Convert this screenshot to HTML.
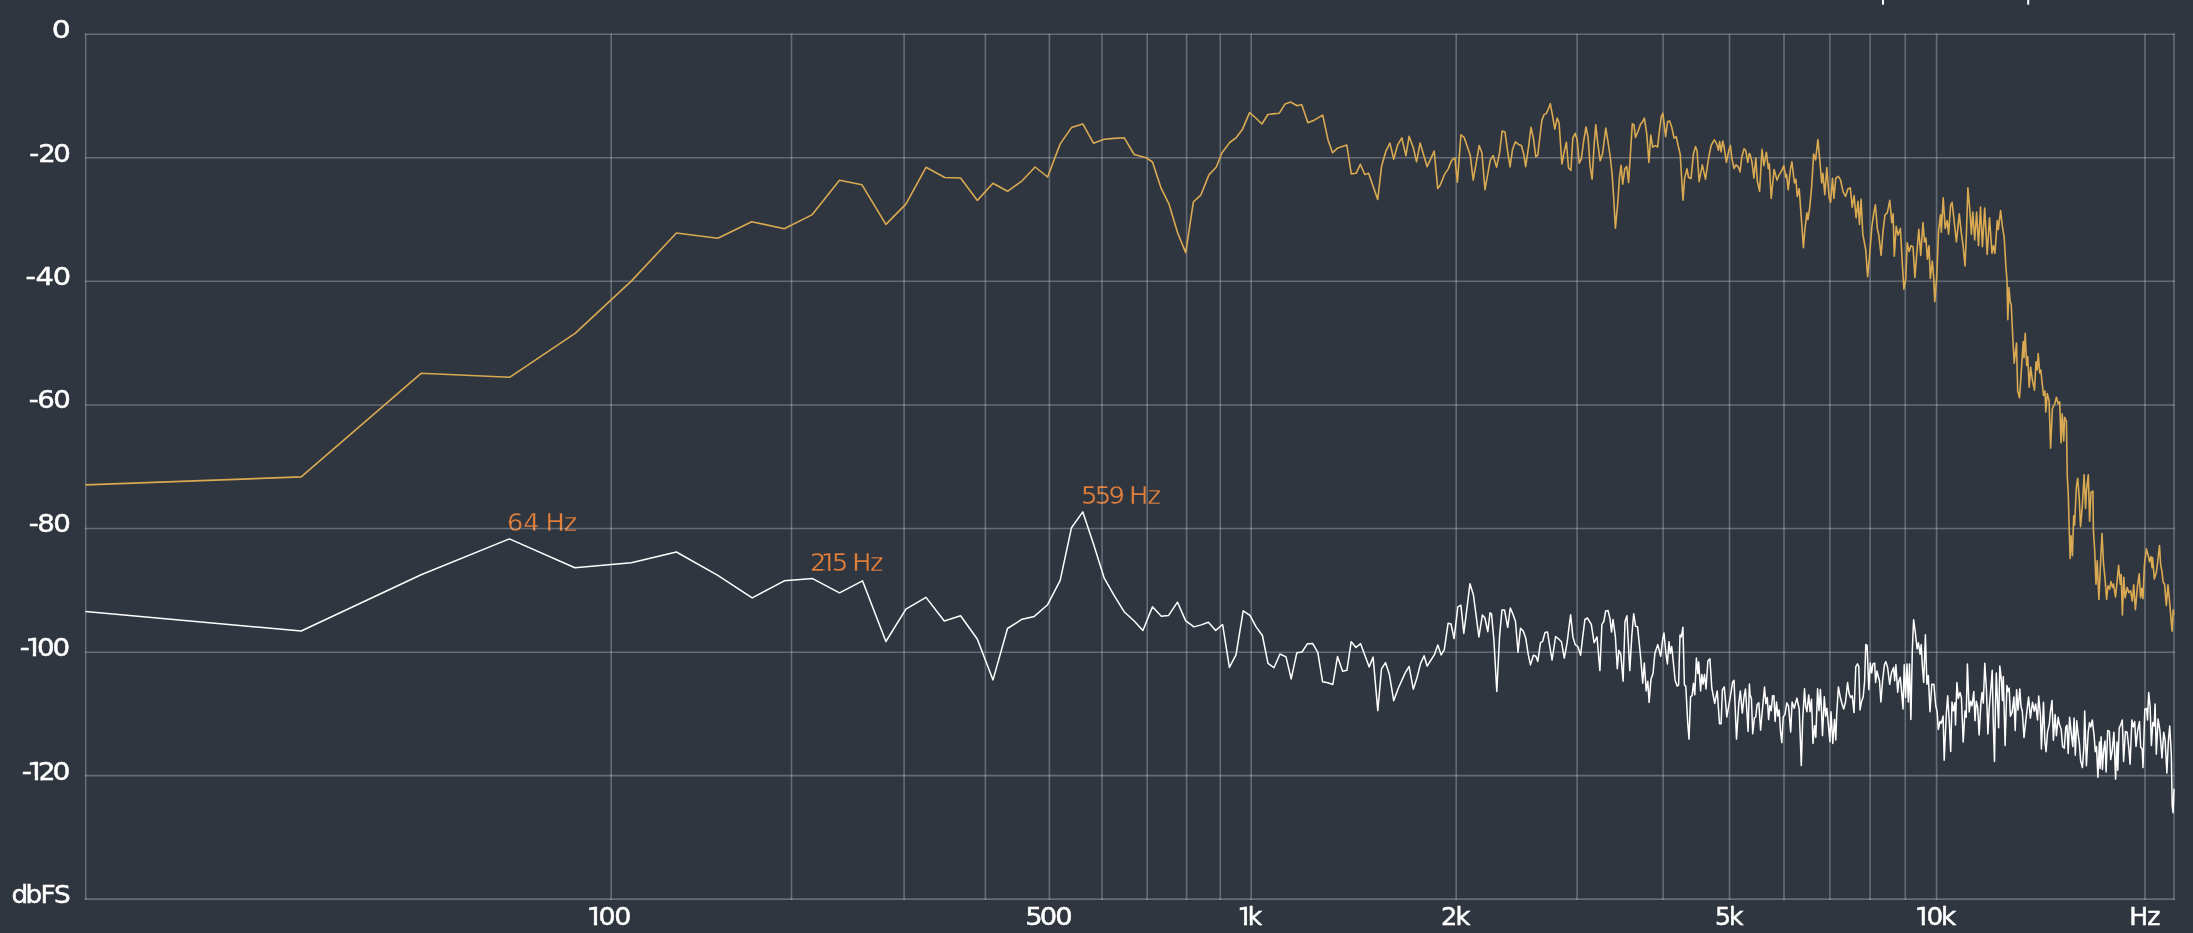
<!DOCTYPE html>
<html><head><meta charset="utf-8"><title>Spectrum</title>
<style>
html,body{margin:0;padding:0;background:#30363f;overflow:hidden}
svg{display:block;will-change:transform}
text{font-family:"DejaVu Sans","Liberation Sans",sans-serif;}
.ax{fill:#ffffff;font-size:24.0px;stroke:#ffffff;stroke-width:0.45px}
.pk{fill:#df7f3b;font-size:24.8px;stroke:#30363f;stroke-width:0.35px}
.g{stroke:rgba(235,245,255,0.28);stroke-width:1.6;fill:none}
</style></head><body>
<svg width="2193" height="933" viewBox="0 0 2193 933">
<rect width="2193" height="933" fill="#30363f"/>
<rect x="1882" y="0" width="2" height="4.7" fill="#fff"/>
<rect x="2027.2" y="0" width="2" height="4.7" fill="#fff"/>
<text class="pk" transform="translate(506.93,531.10) scale(1.0311,1)" x="0.00 15.74 31.52 37.49 55.19" y="0">64 Hz</text>
<text class="pk" transform="translate(810.08,570.85) scale(1.0276,1)" x="0.00 10.49 21.30 37.08 41.00 58.36" y="0">215 Hz</text><rect x="824.40" y="567.39" width="3.68" height="5.06" fill="#30363f"/><rect x="830.67" y="567.39" width="3.23" height="5.06" fill="#30363f"/>
<text class="pk" transform="translate(1081.04,504.05) scale(1.0450,1)" x="0.00 13.16 26.18 41.96 45.95 63.50" y="0">559 Hz</text>
<g class="g">
<line x1="84.9" y1="34.2" x2="2174.8" y2="34.2"/>
<line x1="84.9" y1="157.7" x2="2174.8" y2="157.7"/>
<line x1="84.9" y1="281.3" x2="2174.8" y2="281.3"/>
<line x1="84.9" y1="405.0" x2="2174.8" y2="405.0"/>
<line x1="84.9" y1="528.5" x2="2174.8" y2="528.5"/>
<line x1="84.9" y1="652.3" x2="2174.8" y2="652.3"/>
<line x1="84.9" y1="775.6" x2="2174.8" y2="775.6"/>
<line x1="84.9" y1="899.1" x2="2174.8" y2="899.1"/>
<line x1="85.7" y1="33.400000000000006" x2="85.7" y2="899.9"/>
<line x1="611.2" y1="33.400000000000006" x2="611.2" y2="899.9"/>
<line x1="791.5" y1="33.400000000000006" x2="791.5" y2="899.9"/>
<line x1="904.1" y1="33.400000000000006" x2="904.1" y2="899.9"/>
<line x1="985.4" y1="33.400000000000006" x2="985.4" y2="899.9"/>
<line x1="1049.4" y1="33.400000000000006" x2="1049.4" y2="899.9"/>
<line x1="1102" y1="33.400000000000006" x2="1102" y2="899.9"/>
<line x1="1147.2" y1="33.400000000000006" x2="1147.2" y2="899.9"/>
<line x1="1186.6" y1="33.400000000000006" x2="1186.6" y2="899.9"/>
<line x1="1220.3" y1="33.400000000000006" x2="1220.3" y2="899.9"/>
<line x1="1251.2" y1="33.400000000000006" x2="1251.2" y2="899.9"/>
<line x1="1456.2" y1="33.400000000000006" x2="1456.2" y2="899.9"/>
<line x1="1577.1" y1="33.400000000000006" x2="1577.1" y2="899.9"/>
<line x1="1663.1" y1="33.400000000000006" x2="1663.1" y2="899.9"/>
<line x1="1729.5" y1="33.400000000000006" x2="1729.5" y2="899.9"/>
<line x1="1784" y1="33.400000000000006" x2="1784" y2="899.9"/>
<line x1="1829.9" y1="33.400000000000006" x2="1829.9" y2="899.9"/>
<line x1="1870.1" y1="33.400000000000006" x2="1870.1" y2="899.9"/>
<line x1="1905.3" y1="33.400000000000006" x2="1905.3" y2="899.9"/>
<line x1="1936.6" y1="33.400000000000006" x2="1936.6" y2="899.9"/>
<line x1="2145" y1="33.400000000000006" x2="2145" y2="899.9"/>
<line x1="2174.0" y1="33.400000000000006" x2="2174.0" y2="899.9"/>
</g>
<polyline points="85.5,484.9 301.2,476.9 421.1,373.3 509.6,377.3 575.4,333.2 631.3,281.1 676.4,233.0 717.8,238.2 751.7,221.7 784.3,228.7 811.9,214.9 839.5,180.3 862.0,184.8 885.9,224.4 905.9,204.1 926.0,167.3 944.8,177.5 960.6,178.0 977.4,200.4 993.0,183.3 1007.5,191.3 1022.1,180.8 1035.1,167.0 1047.6,177.0 1060.2,143.9 1071.5,127.6 1082.8,123.9 1093.5,143.2 1104.1,139.2 1114.1,138.4 1124.1,137.7 1134.2,154.5 1144.2,157.2 1146.8,158.1 1152.5,162.0 1161.2,188.4 1168.9,203.8 1177.6,232.8 1185.7,252.6 1193.4,201.9 1200.8,195.2 1208.9,174.9 1216.2,167.2 1222.0,152.7 1229.7,142.5 1236.5,137.3 1242.3,129.6 1249.6,112.6 1255.8,118.0 1261.9,124.0 1267.9,114.5 1273.1,113.9 1279.3,113.2 1285.1,103.9 1290.5,102.0 1297.2,105.8 1301.7,104.5 1307.9,122.8 1314.6,119.9 1322.7,115.1 1328.1,140.2 1332.6,152.7 1337.8,147.9 1346.8,145.0 1351.3,173.9 1356.1,173.3 1360.3,164.3 1364.8,174.5 1368.6,173.3 1377.7,199.4 1381.6,166.2 1386.0,150.8 1389.9,143.1 1393.7,159.1 1397.6,145.0 1401.8,137.8 1405.9,155.6 1409.1,136.3 1413.6,148.8 1416.5,161.8 1420.1,143.1 1427.1,166.6 1434.2,151.2 1437.7,188.4 1440.0,185.5 1444.8,173.9 1448.1,169.1 1451.6,160.4 1454.9,157.9 1457.4,182.2 1460.9,134.8 1464.1,137.3 1470.3,155.6 1473.2,180.1 1479.2,145.6 1481.9,152.7 1485.0,189.7 1490.2,160.4 1493.1,155.6 1496.6,167.2 1499.6,152.7 1502.1,131.0 1505.0,132.1 1507.7,151.9 1510.1,166.9 1512.5,149.5 1515.4,141.8 1518.6,144.4 1521.4,145.5 1523.8,154.3 1525.7,166.7 1528.6,146.3 1531.0,127.3 1533.4,138.2 1535.8,156.7 1537.8,155.1 1539.9,136.6 1541.8,120.6 1543.9,114.9 1546.3,113.3 1548.2,109.3 1550.3,103.7 1552.7,116.5 1554.8,129.1 1557.2,118.1 1559.1,123.0 1561.9,164.0 1564.0,152.7 1566.4,142.3 1568.5,168.0 1570.9,170.4 1572.8,138.2 1575.2,133.4 1577.2,139.9 1579.2,163.2 1581.3,159.1 1583.6,141.5 1586.0,127.0 1588.1,137.4 1590.0,165.6 1592.1,179.2 1594.2,143.9 1595.8,124.9 1597.7,143.1 1600.2,160.8 1602.6,153.5 1605.8,128.1 1608.2,143.1 1610.3,157.5 1612.2,175.2 1613.8,199.4 1615.4,228.3 1617.8,202.6 1619.5,176.8 1621.1,165.3 1622.7,184.1 1624.8,168.8 1626.7,166.4 1628.6,182.5 1630.4,154.3 1632.3,123.8 1633.9,124.6 1635.5,137.4 1637.9,131.8 1640.7,123.8 1642.4,122.2 1644.4,118.1 1646.8,134.2 1648.9,162.4 1650.8,135.0 1652.7,147.1 1655.6,145.5 1657.6,147.1 1659.7,128.6 1661.3,116.5 1662.9,113.3 1665.6,136.6 1667.7,121.4 1669.6,120.9 1671.7,127.0 1674.1,138.2 1676.2,136.6 1678.1,145.5 1680.2,154.3 1683.0,200.2 1684.6,178.4 1687.0,168.8 1688.6,177.6 1691.0,178.4 1693.4,154.3 1695.5,146.6 1697.1,151.1 1699.1,181.7 1702.3,164.8 1705.5,179.2 1708.7,157.5 1711.1,145.5 1714.3,139.9 1716.7,143.9 1718.4,150.3 1719.6,141.5 1721.1,151.9 1722.7,141.1 1724.0,146.3 1726.4,162.4 1728.5,151.9 1730.4,145.5 1732.0,159.1 1734.1,168.5 1736.0,164.8 1738.5,167.2 1740.1,172.0 1741.7,157.5 1744.1,148.7 1745.7,150.3 1747.8,162.4 1749.2,153.5 1750.0,154.1 1751.9,161.8 1753.9,178.2 1755.8,158.0 1757.3,181.1 1759.6,191.3 1762.0,149.3 1763.9,165.7 1766.4,152.2 1768.3,168.6 1769.3,163.8 1771.2,198.5 1774.1,169.5 1777.0,180.1 1778.9,175.3 1781.8,170.5 1783.8,165.7 1785.7,177.3 1786.6,174.4 1788.2,189.8 1790.5,168.6 1791.9,161.8 1794.4,183.0 1795.9,179.2 1797.3,196.5 1799.2,188.8 1801.1,214.9 1803.4,247.6 1805.0,228.4 1806.9,212.9 1807.9,219.7 1809.8,207.1 1811.7,185.9 1813.6,154.1 1815.6,159.9 1817.9,139.6 1819.8,159.9 1821.7,183.0 1822.9,173.4 1824.8,194.6 1826.8,167.6 1829.1,197.5 1830.6,202.3 1832.5,178.2 1833.9,198.5 1835.8,178.2 1838.3,176.3 1840.6,180.1 1843.0,191.7 1845.5,196.5 1848.0,188.8 1850.3,187.9 1852.2,207.1 1854.1,195.6 1856.1,217.8 1858.0,201.4 1859.5,224.5 1861.1,199.4 1862.8,234.1 1865.7,249.6 1867.6,276.6 1869.6,255.4 1871.9,226.4 1873.8,212.9 1875.4,204.8 1877.3,228.4 1878.8,235.1 1881.1,255.4 1883.1,230.3 1885.0,214.9 1887.3,212.9 1889.8,200.4 1891.8,222.6 1893.1,213.9 1894.3,256.3 1896.2,226.4 1898.1,235.1 1900.4,228.4 1902.4,265.0 1903.9,289.1 1905.8,278.5 1907.2,242.8 1909.1,251.5 1911.0,245.7 1913.0,246.7 1914.9,277.5 1916.8,253.4 1918.8,229.3 1920.7,255.4 1923.0,222.6 1924.5,241.9 1925.9,238.0 1927.4,259.2 1929.0,245.7 1930.3,278.5 1932.3,261.1 1933.6,276.6 1934.8,301.6 1936.7,276.6 1938.6,230.3 1940.5,214.9 1941.3,232.2 1943.2,197.9 1945.2,228.4 1947.1,220.6 1948.6,234.1 1950.6,205.2 1952.1,202.3 1954.1,220.6 1956.4,241.9 1959.3,213.9 1961.2,232.2 1963.1,245.7 1965.0,266.0 1966.4,234.1 1967.9,187.9 1969.9,211.0 1971.4,234.1 1972.8,212.0 1974.7,239.9 1976.6,212.0 1978.5,245.7 1980.5,207.1 1982.4,246.7 1984.7,208.1 1987.2,254.4 1989.5,217.8 1992.0,253.4 1993.4,245.7 1994.9,253.4 1997.3,220.6 1998.3,229.5 2000.6,210.6 2002.3,225.9 2004.2,237.7 2006.0,268.4 2007.0,280.2 2007.8,319.7 2009.0,287.5 2010.2,302.5 2011.2,304.0 2012.7,335.5 2014.2,363.2 2016.5,343.0 2017.7,391.0 2019.5,397.7 2021.0,376.0 2023.2,341.5 2024.0,358.0 2025.2,333.2 2026.7,365.5 2027.7,356.5 2029.2,387.2 2030.7,367.0 2032.2,379.0 2034.5,390.2 2036.0,361.7 2037.2,370.0 2038.2,353.5 2039.7,373.0 2040.8,370.0 2043.5,395.5 2045.0,391.0 2045.8,411.9 2047.3,393.6 2049.1,400.9 2050.6,448.3 2052.4,408.2 2054.6,404.6 2056.4,397.3 2058.2,403.7 2059.7,401.8 2061.0,442.9 2062.2,413.7 2063.7,441.0 2064.6,417.3 2066.4,421.0 2067.3,477.5 2068.2,492.1 2069.2,528.5 2070.1,558.6 2071.0,535.8 2072.4,555.8 2073.7,515.8 2074.6,524.9 2076.4,486.6 2077.7,478.4 2079.2,497.5 2080.5,526.7 2082.3,506.6 2084.1,474.7 2085.6,508.5 2086.5,490.2 2088.3,474.7 2089.6,521.2 2091.0,492.1 2092.9,491.1 2093.4,530.3 2094.7,550.4 2096.0,584.1 2097.2,560.9 2098.9,599.5 2100.6,561.8 2102.0,533.5 2103.5,563.5 2105.2,580.6 2106.6,599.5 2108.0,585.8 2109.7,589.2 2110.9,581.5 2112.6,587.5 2113.5,584.1 2115.5,596.9 2117.2,580.6 2118.6,565.2 2120.3,584.1 2121.2,574.6 2122.4,614.9 2123.8,577.2 2125.1,597.8 2127.2,587.5 2128.9,592.6 2130.6,590.9 2132.3,601.2 2133.7,584.9 2135.4,609.8 2137.5,585.8 2139.2,573.8 2140.6,597.8 2141.8,588.4 2143.0,598.6 2144.4,565.2 2146.4,548.9 2148.1,554.9 2149.5,561.8 2150.9,556.6 2152.1,567.8 2152.6,557.5 2154.3,578.9 2156.4,572.1 2157.7,561.8 2159.5,545.5 2160.7,565.2 2161.9,571.2 2163.2,582.3 2164.6,584.1 2166.3,605.5 2168.0,584.9 2169.7,602.9 2170.9,617.5 2172.1,631.2 2173.2,609.8 2173.9,614.9" fill="none" stroke="#d9aa52" stroke-width="1.6" stroke-linejoin="round"/>
<polyline points="85.5,611.4 301.2,631.0 421.1,574.8 509.4,538.9 574.9,567.8 631.3,562.8 676.4,552.0 717.8,575.3 752.2,597.9 784.3,580.8 812.6,578.6 839.5,592.9 862.5,580.8 885.9,641.5 905.9,609.2 926.0,597.4 944.3,621.0 960.6,615.7 977.4,639.3 993.0,679.9 1007.5,628.5 1022.1,619.2 1034.3,616.4 1047.6,604.7 1060.2,580.3 1071.5,527.7 1082.8,511.9 1093.5,544.0 1104.1,577.8 1114.1,595.4 1124.1,611.7 1134.2,621.0 1142.9,630.5 1152.5,606.7 1161.3,616.2 1168.6,615.4 1177.5,602.2 1185.7,620.9 1194.0,626.9 1201.2,624.9 1208.4,622.3 1215.7,630.4 1222.6,624.5 1229.4,667.4 1236.0,654.9 1243.2,610.8 1250.0,615.4 1256.0,626.6 1262.4,635.5 1268.0,663.4 1274.0,667.7 1280.0,654.0 1286.0,656.9 1291.2,678.9 1296.8,652.8 1302.0,652.0 1307.5,643.7 1312.6,643.4 1317.8,652.3 1322.6,681.8 1327.7,682.7 1332.8,684.5 1337.5,656.6 1342.6,671.2 1346.9,670.3 1351.2,641.7 1356.0,647.5 1360.6,643.7 1369.2,666.9 1373.1,657.1 1377.8,710.6 1381.5,668.9 1385.5,662.6 1389.4,674.6 1393.7,700.7 1398.3,688.3 1405.2,672.9 1409.1,666.5 1413.3,689.2 1416.9,678.0 1420.6,663.4 1424.1,655.7 1427.1,666.0 1434.3,654.9 1437.8,644.9 1441.2,654.9 1444.3,649.7 1448.1,623.2 1451.0,624.0 1454.1,638.6 1457.8,606.9 1460.9,605.2 1463.8,633.4 1466.9,608.6 1470.0,583.7 1473.4,594.9 1478.9,636.9 1482.4,614.9 1484.9,618.0 1487.8,631.7 1490.0,612.8 1491.5,613.8 1493.9,639.8 1496.8,691.5 1499.6,635.9 1502.0,609.9 1504.5,609.9 1507.7,627.3 1510.3,608.0 1512.8,613.8 1515.5,621.5 1518.0,652.3 1520.5,628.2 1523.2,631.1 1525.7,637.9 1528.2,654.3 1530.5,664.9 1533.4,655.2 1535.9,656.2 1537.8,661.4 1540.5,642.7 1542.5,641.7 1545.0,632.5 1547.5,632.1 1549.8,646.5 1552.1,660.0 1555.6,636.5 1558.5,638.8 1561.4,641.7 1564.3,658.1 1567.1,642.7 1570.6,614.7 1572.9,636.9 1575.2,644.6 1577.8,646.5 1580.6,655.2 1582.6,637.9 1584.9,619.5 1587.4,618.0 1591.3,624.4 1594.1,642.7 1597.0,636.9 1599.9,670.6 1601.9,624.4 1603.8,621.5 1605.7,610.9 1608.0,610.5 1610.0,618.6 1611.5,632.1 1613.0,619.5 1615.4,636.9 1617.3,668.7 1618.8,650.4 1620.8,654.3 1623.1,681.3 1625.0,621.5 1626.9,615.7 1629.8,670.6 1631.8,635.9 1633.7,613.8 1635.6,626.3 1637.5,626.7 1639.5,645.6 1641.0,661.0 1642.7,683.2 1644.3,662.9 1646.2,690.9 1647.8,681.3 1649.1,702.5 1651.0,679.3 1653.0,673.5 1654.9,653.3 1657.8,644.6 1660.7,656.2 1662.6,639.8 1664.0,633.0 1665.9,653.3 1667.4,663.9 1669.0,641.7 1670.3,653.3 1671.7,646.5 1673.2,661.0 1675.1,680.3 1677.1,686.1 1678.6,685.1 1680.0,635.0 1681.3,636.9 1682.9,627.3 1684.4,685.1 1685.8,686.1 1687.7,722.7 1689.0,739.1 1690.6,696.7 1692.1,695.7 1693.5,683.2 1694.8,694.8 1696.4,658.1 1697.9,673.5 1698.7,662.0 1700.6,690.9 1701.8,674.5 1703.1,684.1 1704.5,674.5 1706.0,689.0 1707.9,661.0 1709.9,658.7 1711.8,688.0 1714.7,703.4 1717.2,690.9 1719.5,723.7 1721.1,723.7 1722.4,689.9 1724.3,687.0 1726.8,716.9 1729.2,703.4 1731.1,691.9 1732.6,682.2 1734.0,680.3 1736.5,739.1 1738.8,703.4 1740.3,690.9 1742.3,713.1 1744.2,695.7 1745.5,689.0 1748.1,731.4 1749.4,684.1 1750.0,694.9 1751.4,698.4 1752.7,733.8 1754.4,717.9 1755.7,717.0 1757.1,704.6 1758.8,702.8 1760.6,730.3 1762.0,714.3 1763.3,700.2 1764.5,686.9 1765.9,703.7 1767.3,697.5 1768.6,719.6 1769.8,705.5 1771.2,710.8 1772.6,695.8 1773.9,695.8 1775.1,721.4 1776.5,702.0 1777.9,716.1 1779.2,709.9 1780.4,730.3 1781.8,742.6 1783.2,717.0 1785.0,714.3 1786.8,702.8 1788.6,706.4 1790.7,732.0 1792.1,702.0 1794.2,708.2 1796.9,698.1 1799.2,709.0 1801.3,765.6 1802.7,719.6 1804.5,688.7 1805.7,706.4 1806.9,711.7 1808.7,694.9 1810.1,711.7 1811.5,699.3 1813.0,743.5 1814.6,725.8 1815.8,737.3 1817.6,688.7 1819.0,710.8 1820.4,689.6 1821.6,712.6 1822.5,735.6 1824.3,696.7 1825.7,716.1 1826.9,708.2 1828.7,728.5 1829.9,741.8 1831.0,711.7 1832.8,743.5 1834.5,719.6 1835.8,740.0 1836.7,714.3 1838.4,686.9 1840.2,696.7 1842.0,703.7 1843.7,709.0 1845.5,702.0 1847.6,682.5 1849.0,693.1 1850.5,697.5 1852.2,695.8 1854.0,712.6 1855.8,666.6 1857.5,663.9 1858.8,666.6 1860.0,709.9 1861.4,702.0 1863.2,696.7 1864.6,681.6 1865.8,644.5 1867.1,645.4 1868.8,689.6 1870.3,663.1 1871.7,672.8 1872.9,663.9 1874.7,663.1 1875.6,682.5 1877.0,671.0 1878.2,676.3 1879.5,680.7 1880.9,702.0 1882.6,680.7 1884.4,664.8 1885.8,661.6 1887.6,667.5 1889.7,684.3 1891.5,672.8 1893.6,667.5 1894.7,680.7 1895.9,664.8 1897.7,692.2 1898.9,680.7 1900.3,677.2 1901.7,693.1 1903.0,709.0 1904.2,664.8 1905.6,697.5 1907.0,663.9 1908.3,702.0 1909.5,663.9 1910.9,719.6 1912.3,650.7 1913.6,619.7 1915.4,633.0 1917.1,648.9 1918.4,642.7 1920.1,654.2 1921.2,644.5 1922.4,666.6 1923.7,682.5 1925.4,634.8 1926.9,684.3 1928.3,675.4 1930.0,711.7 1931.8,684.3 1933.9,684.3 1935.7,705.5 1937.1,711.7 1938.3,729.4 1940.1,721.4 1941.4,723.2 1943.1,716.1 1944.2,760.3 1946.3,714.3 1947.7,695.8 1949.5,725.8 1950.7,751.5 1952.0,702.0 1953.4,710.8 1954.8,702.8 1955.5,725.0 1956.9,682.5 1958.3,698.4 1960.0,692.4 1961.4,697.7 1963.2,742.0 1965.0,711.0 1966.2,717.2 1967.4,664.1 1969.2,711.9 1970.6,701.3 1972.0,705.7 1973.8,691.6 1975.0,720.7 1976.3,701.3 1977.7,707.5 1979.1,734.9 1980.9,703.1 1982.1,692.4 1983.3,703.1 1984.8,663.3 1986.5,690.7 1987.9,734.0 1989.2,708.4 1990.9,688.0 1992.2,670.3 1993.2,720.7 1994.5,761.4 1995.4,708.4 1996.3,673.0 1997.5,701.3 1998.6,727.8 1999.8,665.9 2001.6,681.8 2002.4,700.4 2003.3,676.5 2005.1,745.5 2006.9,685.4 2008.1,691.6 2009.2,688.0 2010.4,716.3 2012.2,711.9 2013.9,696.9 2015.2,730.5 2016.6,689.8 2018.0,710.1 2019.8,688.9 2021.0,706.6 2022.3,711.0 2024.0,737.5 2025.4,724.3 2026.8,711.9 2028.6,696.9 2030.4,718.1 2032.5,702.2 2034.3,711.0 2035.7,703.9 2037.5,719.9 2038.7,696.0 2040.5,716.3 2041.4,749.0 2043.5,702.2 2044.9,742.0 2046.1,751.7 2047.5,732.2 2049.3,724.3 2050.5,711.0 2052.0,700.4 2053.4,740.2 2055.1,714.6 2056.4,735.8 2058.2,717.2 2059.4,724.3 2061.2,729.6 2062.6,746.4 2064.3,748.2 2065.8,726.9 2067.0,725.2 2068.2,753.5 2069.6,717.2 2071.4,734.9 2072.8,746.4 2074.1,718.1 2075.3,755.2 2076.7,720.7 2078.1,734.0 2079.4,743.7 2080.6,760.5 2082.4,767.6 2083.8,748.2 2084.7,711.0 2086.4,765.8 2088.2,732.2 2089.5,722.5 2090.9,726.9 2092.3,719.9 2094.1,735.8 2095.3,751.7 2096.5,746.4 2097.9,777.3 2099.4,742.0 2100.1,768.5 2101.1,736.7 2102.4,769.4 2103.6,750.8 2105.0,741.1 2106.1,772.0 2107.7,730.5 2109.4,731.4 2110.7,759.6 2112.1,751.7 2113.9,732.2 2115.6,779.1 2117.0,742.0 2117.8,770.3 2119.2,727.8 2120.9,724.3 2122.3,719.9 2123.6,761.4 2125.4,731.4 2127.1,732.2 2128.9,749.0 2130.1,764.1 2131.9,719.9 2133.3,726.9 2134.7,721.6 2136.0,746.4 2137.7,730.5 2139.5,721.6 2140.7,747.3 2142.2,749.0 2143.0,767.6 2144.8,709.2 2146.6,708.4 2147.5,719.9 2148.7,692.4 2150.1,706.6 2151.4,745.5 2152.8,722.5 2154.2,726.0 2155.1,703.9 2156.3,754.3 2158.1,719.0 2159.8,729.6 2162.0,757.9 2163.7,732.2 2165.1,740.2 2166.9,772.9 2168.3,742.0 2169.7,726.0 2171.3,754.3 2172.2,805.6 2173.1,812.7 2174.0,788.8" fill="none" stroke="#ffffff" stroke-width="1.5" stroke-linejoin="round"/>
<text class="ax" transform="translate(51.84,38.00) scale(1.2403,1)" x="0.00" y="0">0</text>
<text class="ax" transform="translate(29.27,161.50) scale(1.1494,1)" x="0.00 7.76 20.80" y="0">-20</text>
<text class="ax" transform="translate(25.59,285.20) scale(1.2032,1)" x="0.00 8.25 22.59" y="0">-40</text>
<text class="ax" transform="translate(28.67,408.30) scale(1.1494,1)" x="0.00 7.58 21.32" y="0">-60</text>
<text class="ax" transform="translate(28.65,532.30) scale(1.1557,1)" x="0.00 7.56 21.19" y="0">-80</text>
<text class="ax" transform="translate(19.69,656.20) scale(1.1576,1)" x="0.00 4.76 14.97 28.40" y="0">-100</text><rect x="27.74" y="652.81" width="5.07" height="4.99" fill="#30363f"/><rect x="36.13" y="652.81" width="5.07" height="4.99" fill="#30363f"/>
<text class="ax" transform="translate(21.67,780.00) scale(1.1742,1)" x="0.00 4.59 13.80 26.30" y="0">-120</text><rect x="29.65" y="776.61" width="5.14" height="4.99" fill="#30363f"/><rect x="38.15" y="776.61" width="2.25" height="4.99" fill="#30363f"/>
<text class="ax" transform="translate(11.47,902.80) scale(1.0963,1)" x="0.00 12.91 26.58 38.85" y="0">dbFS</text>
<text class="ax" transform="translate(586.46,924.75) scale(1.1245,1)" x="0.00 10.68 24.64" y="0">100</text><rect x="588.91" y="921.36" width="4.95" height="4.99" fill="#30363f"/><rect x="597.10" y="921.36" width="4.95" height="4.99" fill="#30363f"/>
<text class="ax" transform="translate(1025.18,924.75) scale(1.1411,1)" x="0.00 12.72 26.31" y="0">500</text>
<text class="ax" transform="translate(1237.15,924.75) scale(1.0388,1)" x="0.00 10.29" y="0">1k</text><rect x="1239.34" y="921.36" width="4.61" height="4.99" fill="#30363f"/><rect x="1247.00" y="921.36" width="2.80" height="4.99" fill="#30363f"/>
<text class="ax" transform="translate(1441.10,924.75) scale(1.0730,1)" x="0.00 13.38" y="0">2k</text>
<text class="ax" transform="translate(1715.10,924.75) scale(1.0450,1)" x="0.00 13.19" y="0">5k</text>
<text class="ax" transform="translate(1914.47,924.75) scale(1.0982,1)" x="0.00 10.97 24.12" y="0">10k</text><rect x="1916.84" y="921.36" width="4.84" height="4.99" fill="#30363f"/><rect x="1924.87" y="921.36" width="4.84" height="4.99" fill="#30363f"/>
<text class="ax" transform="translate(2129.26,924.75) scale(1.0465,1)" x="0.00 17.25" y="0">Hz</text>
</svg></body></html>
